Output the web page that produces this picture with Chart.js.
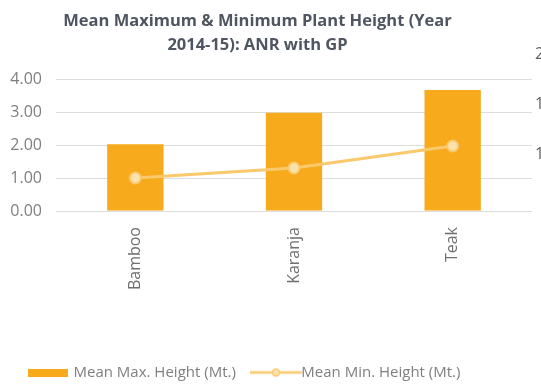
<!DOCTYPE html>
<html>
<head>
<meta charset="utf-8">
<script src="https://cdn.jsdelivr.net/npm/chart.js@4"></script>
<style>
  html, body { margin: 0; padding: 0; background: #fff; overflow: hidden; }
  #wrap { position: relative; width: 541px; height: 385px; overflow: hidden; }
  #title {
    position: absolute; top: 8px; left: 0; width: 515px;
    text-align: center; font: 700 16.5px/24px "Open Sans", sans-serif; color: #4f5661;
  }
  #chart-box { position: absolute; top: 0; left: 0; width: 541px; height: 390px; }
</style>
</head>
<body>
<div id="wrap">
  <div id="chart-box"><canvas id="height-chart" width="541" height="390"></canvas></div>
  <div id="title">Mean Maximum &amp; Minimum Plant Height (Year<br>2014-15): ANR with GP</div>
</div>
<script>
const categories = ['Bamboo', 'Karanja', 'Teak'];
const maxHeights = [2.02, 2.98, 3.67];
const minHeights = [0.76, 0.86, 1.08];
const leftTicks  = [0, 1, 2, 3, 4];
const rightTicks = [1.0, 1.5, 2.0];
const seriesNames = ['Mean Max. Height (Mt.)', 'Mean Min. Height (Mt.)'];

const barColor  = '#f6aa1c';
const lineColor = '#f9c96c';
const tickFont  = { family: 'Open Sans', size: 16 };

// small legend icons: a flat bar swatch and a line with a marker
function barIcon() {
  const c = document.createElement('canvas');
  c.width = 40; c.height = 8;
  const g = c.getContext('2d');
  g.fillStyle = barColor; g.fillRect(0, 0, 40, 8);
  return c;
}
function lineIcon() {
  const c = document.createElement('canvas');
  c.width = 52; c.height = 12;
  const g = c.getContext('2d');
  g.strokeStyle = lineColor; g.lineWidth = 2.5;
  g.beginPath(); g.moveTo(0, 6); g.lineTo(52, 6); g.stroke();
  g.fillStyle = '#fbe2ad'; g.lineWidth = 1.5;
  g.beginPath(); g.arc(26, 6, 3.5, 0, Math.PI * 2); g.fill(); g.stroke();
  return c;
}
const icons = [barIcon(), lineIcon()];

new Chart(document.getElementById('height-chart'), {
  type: 'bar',
  data: {
    labels: categories,
    datasets: [
      {
        type: 'line', label: seriesNames[1], data: minHeights, yAxisID: 'y1', order: 0,
        borderColor: lineColor, borderWidth: 3, backgroundColor: lineColor,
        pointRadius: 5.5, pointBackgroundColor: '#fbe2ad', pointBorderColor: lineColor, pointBorderWidth: 2,
      },
      {
        label: seriesNames[0], data: maxHeights, yAxisID: 'y', order: 1,
        backgroundColor: barColor, barPercentage: 0.355, categoryPercentage: 1,
      },
    ],
  },
  options: {
    responsive: false,
    animation: false,
    layout: { padding: { top: 79, left: 8, right: 0, bottom: 0 } },
    plugins: {
      title: { display: false },
      tooltip: { enabled: false },
      legend: {
        position: 'bottom', align: 'start',
        labels: {
          usePointStyle: true, pointStyleWidth: 36, padding: 22,
          color: '#7f7f7f', font: { family: 'Open Sans', size: 15 },
          generateLabels: chart => {
            const items = Chart.defaults.plugins.legend.labels.generateLabels(chart);
            items.forEach(it => { it.pointStyle = icons[it.datasetIndex === 1 ? 0 : 1]; });
            return items.sort((a, b) => b.datasetIndex - a.datasetIndex);
          },
        },
      },
    },
    scales: {
      x: {
        grid: { display: false }, border: { display: false },
        ticks: { minRotation: 90, maxRotation: 90, padding: 8, color: '#6f6f6f', font: tickFont },
        afterFit: s => { s.height = 132; },
      },
      y: {
        min: 0, max: 4,
        grid: { color: '#dcdcdc', drawTicks: false }, border: { display: false },
        afterBuildTicks: s => { s.ticks = leftTicks.map(v => ({ value: v })); },
        ticks: { padding: 14, color: '#7f7f7f', font: tickFont, callback: v => v.toFixed(2) },
        afterFit: s => { s.width = 48; },
      },
      y1: {
        position: 'right', min: 0.43, max: 1.75,
        grid: { display: false, drawTicks: false }, border: { display: false },
        afterBuildTicks: s => { s.ticks = rightTicks.map(v => ({ value: v })); },
        ticks: { padding: 3, color: '#5f5f5f', font: tickFont, callback: v => v.toFixed(2) },
        afterFit: s => { s.width = 9; },
      },
    },
  },
});
</script>
</body>
</html>
